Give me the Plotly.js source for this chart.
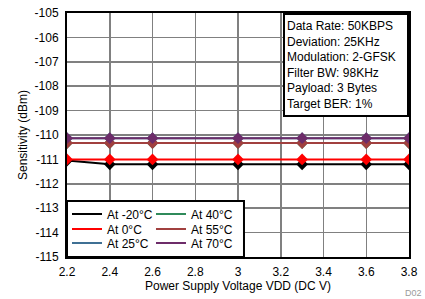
<!DOCTYPE html>
<html>
<head>
<meta charset="utf-8">
<script src="https://cdn.plot.ly/plotly-3.0.1.min.js"></script>
<style>html,body{margin:0;padding:0;background:#fff;}#chart{width:425px;height:299px;}</style>
</head>
<body>
<div id="chart"></div>
<script>
// Data
const vdd = [2.2, 2.4, 2.6, 3.0, 3.3, 3.6, 3.8];
const sensM20 = [-111.05, -111.2, -111.2, -111.2, -111.2, -111.2, -111.2];
const sens0   = [-111.0, -111.0, -111.0, -111.0, -111.0, -111.0, -111.0];
const sens25  = [-110.13, -110.13, -110.13, -110.13, -110.13, -110.13, -110.13];
const sens40  = [-110.33, -110.33, -110.33, -110.33, -110.33, -110.33, -110.33];
const sens55  = [-110.33, -110.33, -110.33, -110.33, -110.33, -110.33, -110.33];
const sens70  = [-110.13, -110.13, -110.13, -110.13, -110.13, -110.13, -110.13];
const seriesNames = ['At -20°C', 'At 0°C', 'At 25°C', 'At 40°C', 'At 55°C', 'At 70°C'];
const seriesColors = ['#000000', '#ff0000', '#3f7094', '#2f8a5a', '#a1403f', '#6d2c69'];
const xTicks = [2.2, 2.4, 2.6, 2.8, 3.0, 3.2, 3.4, 3.6, 3.8];
const xTickText = ['2.2', '2.4', '2.6', '2.8', '3', '3.2', '3.4', '3.6', '3.8'];
const yTicks = [-115, -114, -113, -112, -111, -110, -109, -108, -107, -106, -105];
const yTickText = ['-115', '-114', '-113', '-112', '-111', '-110', '-109', '-108', '-107', '-106', '-105'];
const infoLines = ['Data Rate: 50KBPS', 'Deviation: 25KHz', 'Modulation: 2-GFSK', 'Filter BW: 98KHz', 'Payload: 3 Bytes', 'Target BER: 1%'];

const dataBySeries = [sensM20, sens0, sens25, sens40, sens55, sens70];
const drawOrder = [2, 3, 4, 5, 0, 1];
const font = '"Liberation Sans", Arial, sans-serif';

const traces = [];
drawOrder.forEach(i => {
  traces.push({
    x: vdd, y: dataBySeries[i], type: 'scatter', mode: 'lines+markers',
    line: {color: seriesColors[i], width: 2},
    marker: {symbol: 'diamond', size: 9, color: seriesColors[i]},
    showlegend: false, hoverinfo: 'skip'
  });
});
// legend-only entries (lines only, as in the reference legend), one legend each for exact placement
const legendIds = ['legend', 'legend2', 'legend3', 'legend4', 'legend5', 'legend6'];
seriesNames.forEach((n, i) => {
  traces.push({
    x: [null], y: [null], type: 'scatter', mode: 'lines', name: n,
    line: {color: seriesColors[i], width: 2},
    legend: legendIds[i], showlegend: true
  });
});

const rowY = [0.1762, 0.1148, 0.0574];
const colX = [0.0, 0.2456];

const layout = {
  width: 425, height: 299,
  margin: {l: 67, r: 16, t: 13, b: 42},
  paper_bgcolor: '#fff', plot_bgcolor: '#fff',
  font: {family: font, size: 12, color: '#000'},
  xaxis: {
    range: [2.2, 3.8], tickvals: xTicks, ticktext: xTickText,
    showgrid: true, gridcolor: '#808080', gridwidth: 1.5,
    showline: true, linecolor: '#000', linewidth: 2, mirror: true,
    ticks: '', zeroline: false, ticklabelstandoff: 3,
    title: {text: 'Power Supply Voltage VDD (DC V)', font: {family: font, size: 12}, standoff: 3},
    automargin: false
  },
  yaxis: {
    range: [-115, -105], tickvals: yTicks, ticktext: yTickText,
    showgrid: true, gridcolor: '#808080', gridwidth: 1.5,
    showline: true, linecolor: '#000', linewidth: 2, mirror: true,
    ticks: '', zeroline: false, ticklabelstandoff: 4,
    title: {text: 'Sensitivity (dBm)', font: {family: font, size: 12}, standoff: 4},
    automargin: false
  },
  shapes: [
    {type: 'rect', xref: 'paper', yref: 'paper', x0: 0, x1: 0.5175, y0: 0, y1: 0.2295,
     fillcolor: '#fff', line: {color: '#000', width: 2}, layer: 'above'}
  ],
  annotations: [
    {xref: 'paper', yref: 'paper', x: 1, y: 1, xanchor: 'right', yanchor: 'top',
     text: infoLines.join('<br>'), align: 'left', showarrow: false,
     font: {family: font, size: 12, color: '#000'},
     bgcolor: '#fff', bordercolor: '#000', borderwidth: 2, borderpad: 2,
     width: 118, height: 96, valign: 'middle'},
    {xref: 'paper', yref: 'paper', x: 1.044, y: -0.146, xanchor: 'right', yanchor: 'middle',
     text: 'D02', showarrow: false, font: {family: font, size: 9, color: '#9a9a9a'}}
  ],
  showlegend: true
};
legendIds.forEach((id, i) => {
  layout[id] = {
    bgcolor: 'rgba(255,255,255,0)', borderwidth: 0,
    font: {family: font, size: 12, color: '#000'},
    orientation: 'v', xanchor: 'left', yanchor: 'middle', itemwidth: 30,
    x: colX[Math.floor(i / 3)], y: rowY[i % 3]
  };
});

Plotly.newPlot('chart', traces, layout, {staticPlot: true, displayModeBar: false});
</script>
</body>
</html>
